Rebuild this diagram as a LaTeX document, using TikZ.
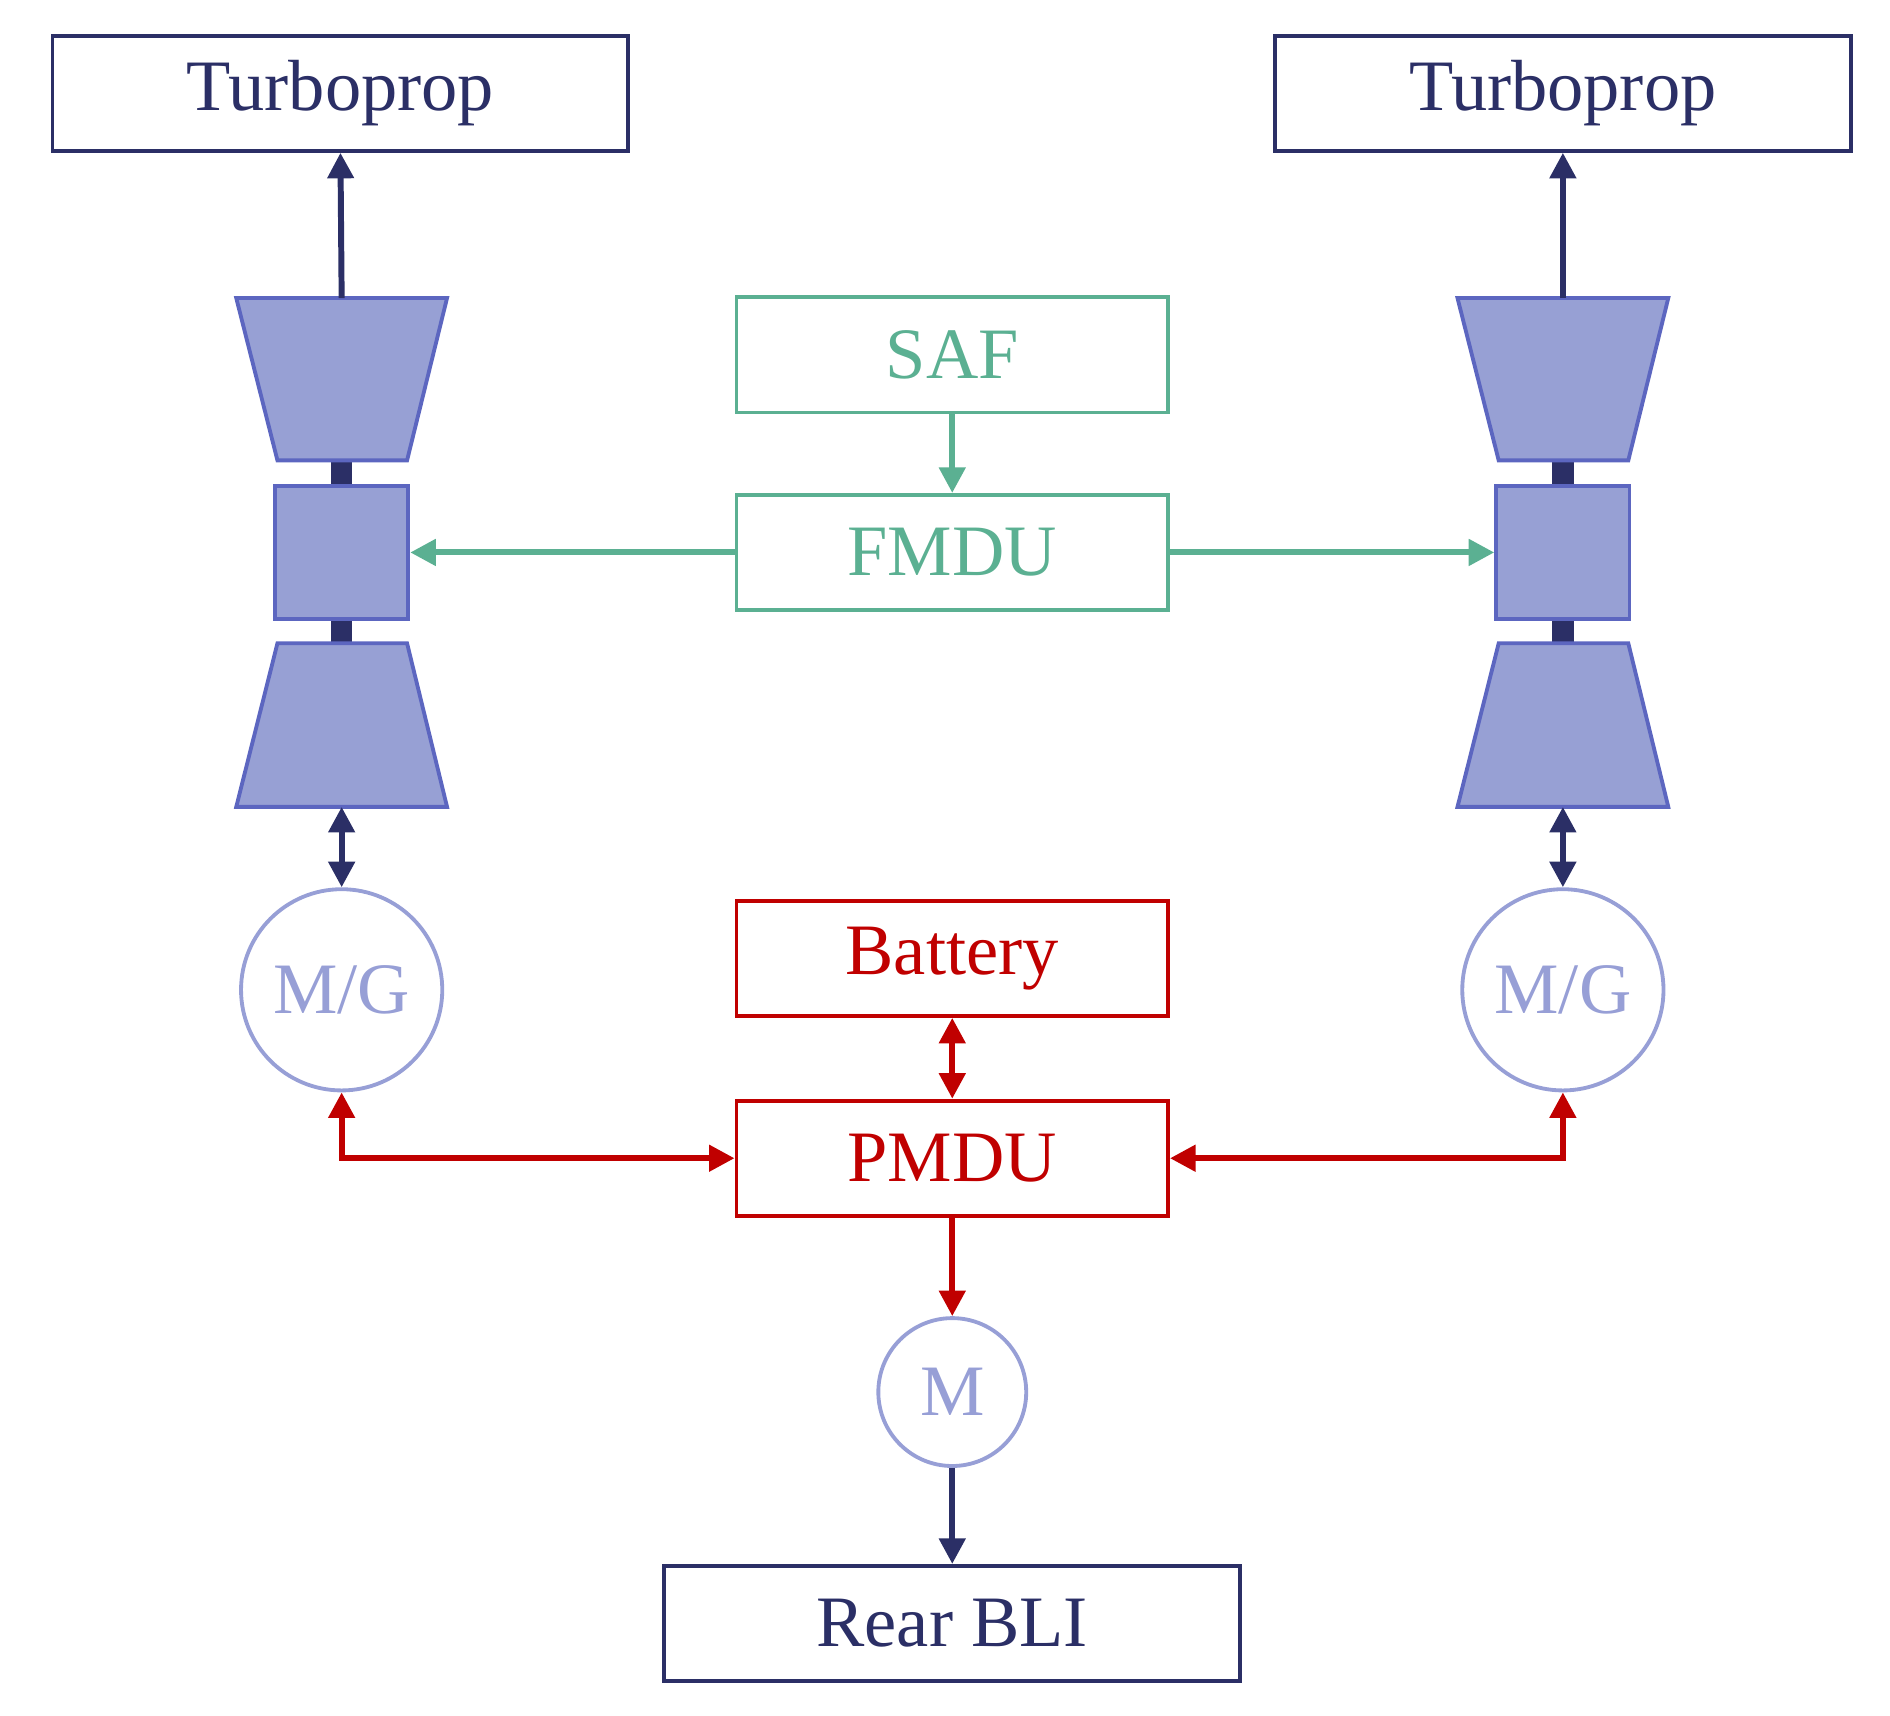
\documentclass[tikz,border=0pt]{standalone}
\usepackage{fontspec}
\setmainfont{Liberation Serif}
\usetikzlibrary{arrows.meta}
\definecolor{navy}{HTML}{2B2F66}
\definecolor{grn}{HTML}{5BB092}
\definecolor{rd}{HTML}{C00000}
\definecolor{tfill}{HTML}{97A0D4}
\definecolor{tline}{HTML}{5C66C0}
\definecolor{circ}{HTML}{979FD6}
\begin{document}
\begin{tikzpicture}[x=0.01cm,y=-0.01cm,
  box/.style={draw,line width=0.9pt,minimum width=4.75cm,minimum height=0.95cm,inner sep=0pt,font=\fontsize{17}{20}\selectfont},
  sbox/.style={box,minimum width=3.56cm},
  mg/.style={circle,draw=circ,text=circ,line width=0.9pt,inner sep=0pt,font=\fontsize{17}{20}\selectfont},
  tb/.style={fill=tfill,draw=tline,line width=0.9pt,line join=miter},
  ar/.style={line width=1.4pt,-{Triangle[length=6pt,width=6pt]}},
  dar/.style={line width=1.4pt,{Triangle[length=6pt,width=6pt]}-{Triangle[length=6pt,width=6pt]}},
  shaft/.style={navy,line width=5pt}]
\useasboundingbox (0,0) rectangle (1560,1416);
\node[box,draw=navy,text=navy] (tpL) at (281,77) {Turboprop};
\node[box,draw=navy,text=navy] (tpR) at (1290,77) {Turboprop};
\node[sbox,draw=grn,text=grn] (saf) at (786,293) {SAF};
\node[sbox,draw=grn,text=grn] (fmdu) at (786,456) {FMDU};
\node[sbox,draw=rd,text=rd] (bat) at (786,791) {Battery};
\node[sbox,draw=rd,text=rd] (pmdu) at (786,956) {PMDU};
\node[box,draw=navy,text=navy] (bli) at (786,1340) {Rear BLI};
\node[mg,minimum size=1.66cm] (mgL) at (282,817) {M/G};
\node[mg,minimum size=1.66cm] (mgR) at (1290,817) {M/G};
\node[mg,minimum size=1.22cm] (m) at (786,1149) {M};
\foreach \dx/\s in {0/L,1008/R}{
  \begin{scope}[xshift=\dx*0.01cm]
  \draw[shaft] (282,380) -- (282,531);
  \draw[tb] (195,246) -- (369,246) -- (336,380) -- (229,380) -- cycle;
  \draw[tb] (229,531) -- (336,531) -- (369,666) -- (195,666) -- cycle;
  \node[tb,minimum width=1.1cm,minimum height=1.1cm,inner sep=0pt] (core\s) at (282,456) {};
  \coordinate (top\s) at (282,246);
  \coordinate (bot\s) at (282,666);
  \end{scope}
}
\foreach \s in {L,R}{
  \draw[ar,navy] (top\s) -- (tp\s.south);
  \draw[dar,navy] (bot\s) -- (mg\s.north);
}
\draw[ar,grn] (saf) -- (fmdu);
\draw[ar,grn] (fmdu.west) -- (coreL.east);
\draw[ar,grn] (fmdu.east) -- (coreR.west);
\draw[dar,rd] (bat) -- (pmdu);
\draw[dar,rd] (mgL.south) |- (pmdu.west);
\draw[dar,rd] (mgR.south) |- (pmdu.east);
\draw[ar,rd] (pmdu) -- (m);
\draw[ar,navy] (m) -- (bli);
\end{tikzpicture}
\end{document}
